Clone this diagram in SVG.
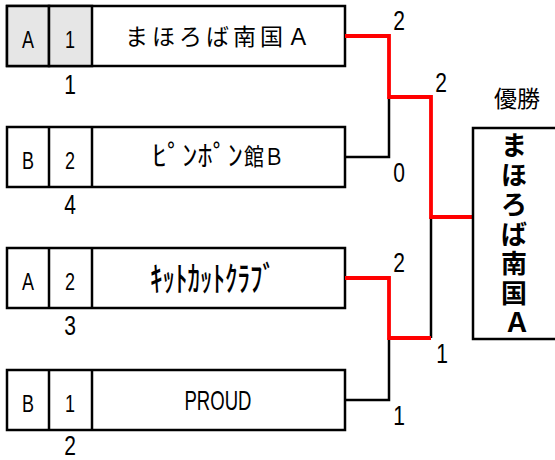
<svg xmlns="http://www.w3.org/2000/svg" width="555" height="460" viewBox="0 0 555 460">
<style>
.box{fill:#fff;stroke:#000;stroke-width:2.5}
.gray{fill:#e6e6e6;stroke:#000;stroke-width:2.5}
.div{stroke:#000;stroke-width:2.5}
.blk{fill:none;stroke:#000;stroke-width:2.5}
.red{fill:none;stroke:#ff0000;stroke-width:3.8}
.cell{font-family:"Liberation Sans",Arial,sans-serif;font-size:24px;text-anchor:middle;fill:#000}
.num{font-family:"Liberation Sans",Arial,sans-serif;font-size:28px;text-anchor:middle;fill:#000}
.jp{font-family:"Noto Sans CJK JP",sans-serif;font-size:23px;fill:#000}
.win{font-family:"Noto Sans CJK JP",sans-serif;font-size:26px;font-weight:bold;text-anchor:middle;fill:#000}
</style>
<rect x="0" y="0" width="555" height="460" fill="#fff"/>
<g id="team1">
<rect class="box" x="7" y="6" width="338" height="60"/>
<rect class="gray" x="7" y="6" width="42" height="60"/>
<rect class="gray" x="49" y="6" width="43" height="60"/>
<text class="cell" x="28" y="47.5" textLength="12" lengthAdjust="spacingAndGlyphs">A</text>
<text class="cell" x="70" y="47.5" textLength="10" lengthAdjust="spacingAndGlyphs">1</text>
<text class="jp" x="125" y="45" textLength="185" lengthAdjust="spacing">まほろば南国Ａ</text>
<text class="num" x="70" y="94" textLength="11.7" lengthAdjust="spacingAndGlyphs">1</text>
</g>
<g id="team2">
<rect class="box" x="7" y="127" width="338" height="60"/>
<line class="div" x1="49" y1="127" x2="49" y2="187"/>
<line class="div" x1="92" y1="127" x2="92" y2="187"/>
<text class="cell" x="28" y="168.5" textLength="12" lengthAdjust="spacingAndGlyphs">B</text>
<text class="cell" x="70" y="168.5" textLength="10" lengthAdjust="spacingAndGlyphs">2</text>
<text class="jp" x="152" y="164" font-size="24" textLength="91" lengthAdjust="spacingAndGlyphs" transform="translate(0,157) scale(1,1.25) translate(0,-157)">ﾋﾟﾝﾎﾟﾝ</text>
<text class="jp" x="244" y="165" font-size="21" textLength="40" lengthAdjust="spacingAndGlyphs">館Ｂ</text>
<text class="num" x="70" y="214" textLength="11.7" lengthAdjust="spacingAndGlyphs">4</text>
</g>
<g id="team3">
<rect class="box" x="7" y="248" width="338" height="60"/>
<line class="div" x1="49" y1="248" x2="49" y2="308"/>
<line class="div" x1="92" y1="248" x2="92" y2="308"/>
<text class="cell" x="28" y="289.5" textLength="12" lengthAdjust="spacingAndGlyphs">A</text>
<text class="cell" x="70" y="289.5" textLength="10" lengthAdjust="spacingAndGlyphs">2</text>
<text class="jp" x="150" y="287" font-size="30" font-weight="500" textLength="125" lengthAdjust="spacingAndGlyphs" transform="translate(0,278) scale(1,1.5) translate(0,-278)">ｷｯﾄｶｯﾄｸﾗﾌﾞ</text>
<text class="num" x="70" y="335" textLength="11.7" lengthAdjust="spacingAndGlyphs">3</text>
</g>
<g id="team4">
<rect class="box" x="7" y="370" width="338" height="60"/>
<line class="div" x1="49" y1="370" x2="49" y2="430"/>
<line class="div" x1="92" y1="370" x2="92" y2="430"/>
<text class="cell" x="28" y="411.5" textLength="12" lengthAdjust="spacingAndGlyphs">B</text>
<text class="cell" x="70" y="411.5" textLength="10" lengthAdjust="spacingAndGlyphs">1</text>
<text class="num" x="218" y="410" font-size="29" textLength="67" lengthAdjust="spacingAndGlyphs">PROUD</text>
<text class="num" x="70" y="455" textLength="11.7" lengthAdjust="spacingAndGlyphs">2</text>
</g>
<g id="connectors">
<path class="blk" d="M345,157 H389 V97"/>
<path class="blk" d="M345,400 H389 V338"/>
<path class="blk" d="M431,338 V217"/>
<path class="red" d="M345,36 H389 V97 H431 V217 H473"/>
<path class="red" d="M345,278 H389 V338 H431"/>
</g>
<g id="scores">
<text class="num" x="399" y="30" textLength="11.7" lengthAdjust="spacingAndGlyphs">2</text>
<text class="num" x="441" y="92" textLength="11.7" lengthAdjust="spacingAndGlyphs">2</text>
<text class="num" x="399" y="182" textLength="11.7" lengthAdjust="spacingAndGlyphs">0</text>
<text class="num" x="399" y="272" textLength="11.7" lengthAdjust="spacingAndGlyphs">2</text>
<text class="num" x="442" y="363" textLength="11.7" lengthAdjust="spacingAndGlyphs">1</text>
<text class="num" x="399" y="425" textLength="11.7" lengthAdjust="spacingAndGlyphs">1</text>
</g>
<g id="winner">
<text class="jp" x="517" y="107" text-anchor="middle">優勝</text>
<rect class="box" x="473" y="128" width="100" height="211"/>
<text class="win">
<tspan x="517" y="155">ま</tspan>
<tspan x="517" y="184.5">ほ</tspan>
<tspan x="517" y="214">ろ</tspan>
<tspan x="517" y="243.5">ば</tspan>
<tspan x="517" y="273">南</tspan>
<tspan x="517" y="302.5">国</tspan>
<tspan x="517" y="332">Ａ</tspan>
</text>
</g>
</svg>
